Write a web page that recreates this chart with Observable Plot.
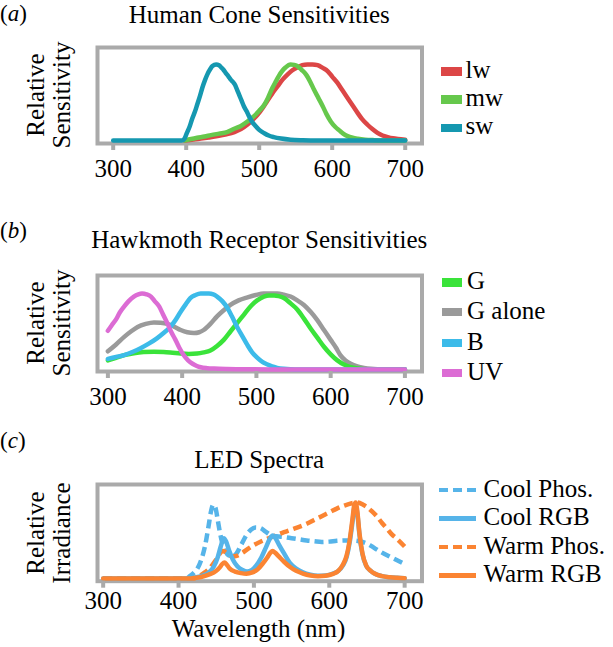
<!DOCTYPE html>
<html><head><meta charset="utf-8">
<script src="https://cdn.jsdelivr.net/npm/d3@7"></script>
<script src="https://cdn.jsdelivr.net/npm/@observablehq/plot@0.6"></script>
<style>
html,body{margin:0;padding:0;background:#fff;}
#root{position:relative;width:613px;height:647px;overflow:hidden;font-family:"Liberation Serif","Times New Roman",serif;color:#000;}
.t{position:absolute;line-height:0;white-space:nowrap;}
.vwrap{position:absolute;width:0;height:0;}
.vtext{position:absolute;left:0;top:0;line-height:0;white-space:nowrap;transform-origin:0 0;}
.sw{position:absolute;}
svg{position:absolute;left:0;max-width:none;}
</style></head><body><div id="root"></div><script>
// ---------- data ----------
const xTicks = [300, 400, 500, 600, 700];

// (a) Human cone sensitivities  [wavelength nm, relative sensitivity]
const lw = [[398,0],[410,0.012],[420,0.026],[431,0.04],[443,0.057],[455,0.08],[466,0.11],[475,0.15],[484,0.21],[491,0.27],[498,0.34],[505,0.43],[511,0.52],[518,0.62],[525,0.71],[532,0.8],[539,0.87],[545,0.92],[552,0.96],[559,0.99],[566,1.0],[573,1.0],[580,0.99],[587,0.955],[594,0.91],[600,0.84],[607,0.76],[614,0.66],[621,0.56],[628,0.46],[635,0.36],[641,0.28],[648,0.21],[655,0.15],[662,0.1],[669,0.065],[676,0.044],[683,0.028],[690,0.018],[700,0.009]];
const mw = [[398,0],[405,0.015],[415,0.035],[425,0.052],[434,0.07],[445,0.09],[456,0.11],[465,0.15],[475,0.19],[484,0.25],[493,0.32],[500,0.39],[507,0.47],[512,0.56],[518,0.69],[523,0.78],[527,0.85],[532,0.92],[536,0.96],[543,1.0],[548,0.995],[552,0.98],[558,0.93],[564,0.87],[570,0.77],[575,0.67],[581,0.56],[587,0.45],[592,0.35],[598,0.25],[604,0.18],[610,0.13],[615,0.09],[621,0.057],[628,0.035],[635,0.022],[645,0.01],[658,0.004],[675,0.001],[700,0]];
const sw = [[300,0],[394,0],[398,0.03],[401,0.1],[405,0.19],[408,0.28],[412,0.38],[415,0.47],[419,0.59],[422,0.69],[426,0.8],[429,0.87],[433,0.94],[436,0.98],[441,1.0],[445,0.99],[448,0.96],[451,0.93],[454,0.89],[458,0.84],[461,0.8],[464,0.77],[467,0.73],[470,0.66],[473,0.59],[476,0.52],[479,0.45],[483,0.38],[486,0.32],[490,0.25],[495,0.19],[500,0.14],[507,0.095],[513,0.065],[520,0.044],[530,0.025],[543,0.01],[560,0.003],[580,0],[700,0]];

// (b) Hawkmoth receptor sensitivities
const G = [[300,0.12],[311,0.155],[322,0.19],[335,0.215],[348,0.23],[362,0.235],[375,0.23],[387,0.22],[398,0.21],[409,0.205],[420,0.21],[429,0.225],[438,0.25],[447,0.31],[456,0.39],[465,0.5],[474,0.61],[483,0.72],[492,0.83],[501,0.91],[510,0.96],[517,0.975],[524,0.975],[530,0.965],[537,0.94],[546,0.87],[555,0.79],[564,0.67],[573,0.54],[582,0.42],[591,0.3],[600,0.2],[609,0.12],[618,0.065],[627,0.03],[636,0.013],[645,0.005],[660,0.001],[700,0]];
const Galone = [[300,0.24],[311,0.33],[322,0.43],[331,0.5],[340,0.56],[351,0.6],[362,0.62],[371,0.615],[380,0.6],[389,0.565],[398,0.52],[407,0.49],[416,0.48],[423,0.49],[429,0.52],[438,0.6],[447,0.7],[456,0.78],[465,0.85],[476,0.91],[488,0.95],[499,0.98],[510,1.0],[528,1.0],[537,0.985],[546,0.96],[555,0.91],[564,0.85],[573,0.76],[582,0.65],[591,0.52],[600,0.39],[607,0.29],[613,0.19],[620,0.12],[627,0.076],[636,0.042],[645,0.022],[654,0.01],[663,0.004],[680,0.001],[700,0]];
const B = [[300,0.14],[311,0.165],[322,0.19],[333,0.23],[344,0.28],[355,0.34],[366,0.41],[375,0.48],[384,0.56],[391,0.65],[398,0.76],[405,0.86],[411,0.94],[418,0.98],[425,1.0],[436,1.0],[442,0.99],[447,0.96],[454,0.9],[461,0.81],[467,0.7],[474,0.56],[481,0.44],[488,0.32],[494,0.23],[501,0.155],[508,0.1],[515,0.067],[521,0.04],[528,0.022],[537,0.01],[546,0.004],[560,0.001],[580,0],[700,0]];
const UV = [[300,0.51],[305,0.58],[311,0.66],[316,0.75],[322,0.83],[328,0.9],[335,0.96],[341,0.99],[346,1.0],[352,0.99],[358,0.96],[363,0.9],[369,0.83],[374,0.73],[380,0.61],[385,0.5],[391,0.39],[396,0.29],[402,0.19],[408,0.12],[414,0.076],[419,0.05],[425,0.03],[434,0.018],[443,0.012],[460,0.006],[480,0.003],[520,0.001],[700,0]];

// (c) LED spectra  [wavelength nm, relative irradiance]
const coolPhos = [[300,0],[410,0],[415,0.03],[420,0.07],[425,0.13],[430,0.24],[435,0.42],[440,0.7],[443,0.88],[446,0.97],[449,0.93],[452,0.77],[455,0.6],[458,0.47],[462,0.36],[467,0.3],[472,0.29],[477,0.33],[483,0.44],[490,0.57],[496,0.64],[502,0.67],[508,0.665],[515,0.62],[522,0.575],[530,0.555],[540,0.545],[550,0.53],[560,0.515],[570,0.5],[580,0.49],[590,0.48],[600,0.485],[610,0.495],[620,0.5],[630,0.5],[640,0.49],[650,0.46],[660,0.4],[670,0.34],[680,0.29],[690,0.24],[700,0.19]];
const coolRGB = [[300,0],[415,0],[420,0.01],[430,0.03],[440,0.075],[447,0.16],[452,0.28],[456,0.42],[460,0.53],[463,0.49],[467,0.37],[472,0.25],[478,0.16],[485,0.11],[491,0.09],[497,0.11],[503,0.17],[510,0.28],[516,0.41],[521,0.52],[525,0.565],[528,0.54],[533,0.45],[540,0.33],[548,0.2],[556,0.13],[565,0.08],[575,0.05],[585,0.037],[595,0.04],[605,0.065],[612,0.1],[618,0.17],[623,0.28],[627,0.47],[631,0.76],[633,0.92],[635,0.96],[637,0.87],[640,0.58],[644,0.32],[649,0.165],[655,0.1],[660,0.065],[670,0.03],[680,0.015],[690,0.008],[700,0.004]];
const warmPhos = [[300,0],[420,0],[425,0.02],[430,0.045],[435,0.08],[440,0.12],[445,0.18],[450,0.25],[455,0.33],[458,0.36],[462,0.35],[467,0.31],[472,0.29],[478,0.3],[485,0.34],[492,0.39],[500,0.44],[510,0.49],[520,0.53],[530,0.57],[540,0.61],[550,0.645],[560,0.68],[570,0.72],[580,0.77],[590,0.82],[600,0.87],[610,0.92],[620,0.96],[630,0.99],[637,1.0],[645,0.97],[650,0.94],[657,0.88],[663,0.82],[670,0.73],[677,0.65],[683,0.58],[690,0.52],[700,0.42]];
const warmRGB = [[300,0],[415,0],[420,0.005],[430,0.02],[440,0.05],[450,0.1],[455,0.15],[458,0.19],[461,0.21],[464,0.18],[468,0.13],[475,0.09],[483,0.07],[490,0.063],[498,0.08],[505,0.12],[512,0.2],[518,0.28],[522,0.34],[525,0.36],[528,0.34],[533,0.29],[540,0.22],[548,0.15],[556,0.1],[565,0.065],[575,0.04],[585,0.03],[595,0.035],[605,0.06],[612,0.1],[618,0.18],[623,0.3],[627,0.5],[631,0.8],[633,0.96],[635,1.0],[637,0.9],[640,0.6],[644,0.33],[649,0.17],[655,0.1],[660,0.065],[670,0.03],[680,0.015],[690,0.008],[700,0.004]];

// ---------- styling ----------
const FONT = "Liberation Serif";
const BOX = "#aaaaaa";
const C = {lw:"#dc4646", mw:"#66c84c", sw:"#1598b0", G:"#3ae33a", Galone:"#9a9a9a", B:"#3cbbe9", UV:"#dc6cd4", cool:"#56b4e9", warm:"#fb8432"};

const root = document.getElementById("root");

function addText(html, x, baseline, size, anchor, extra) {
  const d = document.createElement("div");
  d.className = "t";
  d.style.fontSize = size + "px";
  d.style.left = x + "px";
  d.style.top = (baseline - 0.3375 * size) + "px";
  if (anchor === "middle") d.style.transform = "translateX(-50%)";
  if (extra) Object.assign(d.style, extra);
  d.innerHTML = html;
  root.appendChild(d);
}
function addVText(str, bx, cy, size) {
  const w = document.createElement("div");
  w.className = "vwrap";
  w.style.left = bx + "px";
  w.style.top = cy + "px";
  const s = document.createElement("span");
  s.className = "vtext";
  s.style.fontSize = size + "px";
  s.style.transform = `rotate(-90deg) translate(-50%, ${-0.3375 * size}px)`;
  s.textContent = str;
  w.appendChild(s);
  root.appendChild(w);
}
function addSwatch(x, cy, w, h, color, dashed) {
  const d = document.createElement("div");
  d.className = "sw";
  d.style.left = x + "px";
  d.style.top = (cy - h / 2) + "px";
  d.style.width = w + "px";
  d.style.height = h + "px";
  d.style.background = dashed
    ? `repeating-linear-gradient(to right, ${color} 0 9px, transparent 9px 14px)`
    : color;
  root.appendChild(d);
}

function panel({boxTop, boxH, xDomain, yDomain, series, tickPadding}) {
  const mt = 6, mb = 48, W = 440;
  const marks = [Plot.frame({stroke: BOX, strokeWidth: 4})];
  for (const s of series) {
    marks.push(Plot.line(s.data, {
      x: d => d[0], y: d => d[1], stroke: s.color, strokeWidth: 4.5,
      curve: "monotone-x",
      strokeDasharray: s.dash ? "9,5" : null,
      strokeLinecap: s.dash ? "butt" : "round"
    }));
  }
  marks.push(Plot.axisX(xTicks, {
    tickSize: 7, tickPadding, stroke: BOX, strokeWidth: 4, fill: "black",
    fontSize: 25, fontFamily: FONT, label: null
  }));
  const svg = Plot.plot({
    width: W, height: mt + boxH + mb,
    marginTop: mt, marginBottom: mb, marginLeft: 97, marginRight: W - 421.5,
    x: {domain: xDomain},
    y: {domain: yDomain, axis: null},
    style: {background: "transparent", overflow: "visible", fontFamily: FONT},
    marks
  });
  svg.style.top = (boxTop - mt) + "px";
  root.appendChild(svg);
}

// ---------- panel (a) ----------
panel({boxTop: 47, boxH: 96, xDomain: [278.5, 723], yDomain: [-0.04, 1.223], tickPadding: 8.5,
  series: [{data: lw, color: C.lw}, {data: mw, color: C.mw}, {data: sw, color: C.sw}]});
addText("(<i>a</i>)", 0, 21.5, 23);
addText("Human Cone Sensitivities", 259.25, 23.3, 25, "middle");
addVText("Relative", 44, 95, 25);
addVText("Sensitivity", 70, 95, 25);
[["lw", C.lw, 71.5], ["mw", C.mw, 99.6], ["sw", C.sw, 128]].forEach(([t, c, y]) => {
  addSwatch(441, y, 20.5, 8.5, c);
  addText(t, 465.5, y + 6.5, 25);
});

// ---------- panel (b) ----------
panel({boxTop: 275, boxH: 96, xDomain: [286, 723], yDomain: [-0.026, 1.237], tickPadding: 9,
  series: [{data: Galone, color: C.Galone}, {data: G, color: C.G}, {data: B, color: C.B}, {data: UV, color: C.UV}]});
addText("(<i>b</i>)", 0, 238.8, 23);
addText("Hawkmoth Receptor Sensitivities", 259.25, 248.3, 25, "middle");
addVText("Relative", 44, 323, 25);
addVText("Sensitivity", 70, 323, 25);
[["G", C.G, 282.5], ["G alone", C.Galone, 312.2], ["B", C.B, 343], ["UV", C.UV, 373]].forEach(([t, c, y]) => {
  addSwatch(441.5, y, 20.5, 8.5, c);
  addText(t, 467, y + 7, 25);
});

// ---------- panel (c) ----------
panel({boxTop: 484.3, boxH: 96.7, xDomain: [292.5, 723], yDomain: [-0.036, 1.237], tickPadding: 3,
  series: [{data: coolPhos, color: C.cool, dash: true}, {data: warmPhos, color: C.warm, dash: true},
           {data: coolRGB, color: C.cool}, {data: warmRGB, color: C.warm}]});
addText("(<i>c</i>)", 0, 448.8, 23);
addText("LED Spectra", 259.25, 468.2, 25, "middle");
addVText("Relative", 44, 532.6, 25);
addVText("Irradiance", 70, 532.6, 25);
addText("Wavelength (nm)", 258.5, 637, 25, "middle");
[["Cool Phos.", C.cool, 490, true], ["Cool RGB", C.cool, 518.5, false], ["Warm Phos.", C.warm, 547, true], ["Warm RGB", C.warm, 575.3, false]].forEach(([t, c, y, dash]) => {
  addSwatch(438.5, y, 37, 4.5, c, dash);
  addText(t, 483.5, y + 7, 25);
});
</script></body></html>
